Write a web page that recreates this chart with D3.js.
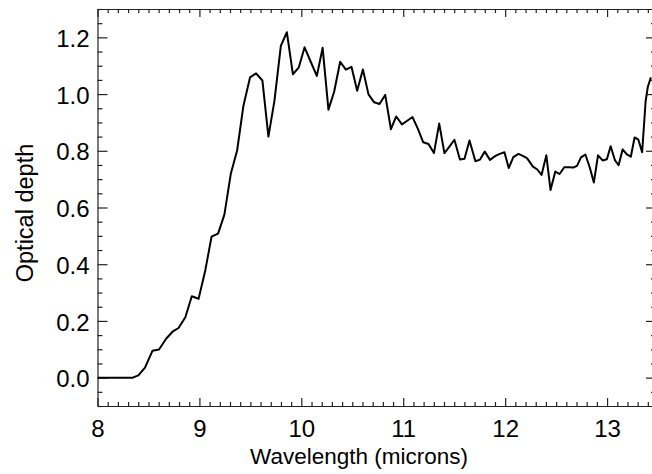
<!DOCTYPE html>
<html><head><meta charset="utf-8">
<script src="https://cdn.jsdelivr.net/npm/d3@7"></script>
<style>
html,body{margin:0;padding:0;background:#fff;}
svg text{font-family:"Liberation Sans",Arial,Helvetica,sans-serif;}
</style>
</head><body>
<svg id="chart" width="652" height="474"></svg>
<script>
const wavelength = [8.000,8.346,8.401,8.466,8.540,8.604,8.673,8.736,8.795,8.862,8.925,8.992,9.058,9.119,9.183,9.245,9.309,9.370,9.432,9.497,9.556,9.618,9.677,9.736,9.799,9.858,9.917,9.974,10.032,10.092,10.152,10.209,10.266,10.322,10.381,10.437,10.492,10.548,10.604,10.659,10.715,10.767,10.823,10.879,10.931,10.987,11.039,11.091,11.144,11.196,11.248,11.301,11.353,11.404,11.453,11.502,11.556,11.601,11.650,11.708,11.753,11.800,11.851,11.901,11.947,11.993,12.035,12.080,12.131,12.173,12.214,12.273,12.315,12.357,12.404,12.445,12.492,12.534,12.580,12.624,12.669,12.705,12.744,12.787,12.831,12.870,12.911,12.956,12.998,13.035,13.078,13.113,13.153,13.194,13.233,13.270,13.307,13.344,13.378,13.400,13.430];
const opticalDepth = [0.000,0.000,0.008,0.035,0.095,0.099,0.137,0.162,0.175,0.213,0.287,0.278,0.379,0.497,0.508,0.575,0.721,0.801,0.959,1.059,1.073,1.048,0.850,0.976,1.170,1.218,1.070,1.093,1.165,1.114,1.064,1.163,0.945,1.008,1.114,1.086,1.096,1.012,1.087,0.999,0.971,0.965,0.997,0.876,0.921,0.893,0.906,0.919,0.877,0.830,0.824,0.792,0.896,0.792,0.815,0.839,0.769,0.772,0.836,0.763,0.769,0.797,0.768,0.781,0.789,0.795,0.739,0.778,0.789,0.782,0.774,0.744,0.734,0.715,0.784,0.662,0.727,0.718,0.742,0.742,0.741,0.747,0.777,0.787,0.740,0.688,0.784,0.766,0.770,0.816,0.766,0.749,0.805,0.787,0.779,0.847,0.839,0.795,0.974,1.026,1.059];
const xTickValues = [8,9,10,11,12,13];
const yTickValues = [0.0,0.2,0.4,0.6,0.8,1.0,1.2];
const xTitle = "Wavelength (microns)";
const yTitle = "Optical depth";

const svg = d3.select("#chart");
const L=97.5, R=656, T=9, B=406;
const x = d3.scaleLinear().domain([8,13.48]).range([L,R]);
const y = d3.scaleLinear().domain([-0.1,1.3]).range([B,T]);

const axisColor = "#222";
const fsTick = 24;
const fsTitle = 22.5;

svg.append("clipPath").attr("id","clip").append("rect")
  .attr("x",L).attr("y",T).attr("width",R-L).attr("height",B-T);

const xMinor = d3.range(80,135).map(d=>d/10).filter(d=>d<=13.48 && !xTickValues.includes(d));
const yMinor = d3.range(-2,27).map(d=>d/20).filter(d=>Math.abs(Math.round(d*5)-d*5)>1e-6);

function styleAxis(g){
  g.select(".domain").attr("stroke",axisColor).attr("stroke-width",1.2);
  g.selectAll(".tick line").attr("stroke",axisColor).attr("stroke-width",1.2);
  g.selectAll("text").attr("font-size",fsTick).attr("fill","#000").attr("font-family",'"Liberation Sans",Arial,sans-serif');
}

// bottom
svg.append("g").attr("transform",`translate(0,${B})`)
  .call(d3.axisBottom(x).tickValues(xTickValues).tickFormat(d3.format("d")).tickSizeInner(-8).tickSizeOuter(0).tickPadding(14))
  .call(styleAxis);
svg.append("g").attr("transform",`translate(0,${B})`)
  .call(d3.axisBottom(x).tickValues(xMinor).tickFormat("").tickSizeInner(-4).tickSizeOuter(0))
  .call(styleAxis).call(g=>g.select(".domain").remove());
// top
svg.append("g").attr("transform",`translate(0,${T})`)
  .call(d3.axisTop(x).tickValues(xTickValues).tickFormat("").tickSizeInner(-8).tickSizeOuter(0))
  .call(styleAxis);
svg.append("g").attr("transform",`translate(0,${T})`)
  .call(d3.axisTop(x).tickValues(xMinor).tickFormat("").tickSizeInner(-4).tickSizeOuter(0))
  .call(styleAxis).call(g=>g.select(".domain").remove());
// left
svg.append("g").attr("transform",`translate(${L},0)`)
  .call(d3.axisLeft(y).tickValues(yTickValues).tickFormat(d3.format(".1f")).tickSizeInner(-10).tickSizeOuter(0).tickPadding(8))
  .call(styleAxis)
  .call(g=>g.selectAll("text").attr("dy","0.38em"));
svg.append("g").attr("transform",`translate(${L},0)`)
  .call(d3.axisLeft(y).tickValues(yMinor).tickFormat("").tickSizeInner(-5).tickSizeOuter(0))
  .call(styleAxis).call(g=>g.select(".domain").remove());
// right
svg.append("g").attr("transform",`translate(${R},0)`)
  .call(d3.axisRight(y).tickValues(yTickValues).tickFormat("").tickSizeInner(-10).tickSizeOuter(0))
  .call(styleAxis);
svg.append("g").attr("transform",`translate(${R},0)`)
  .call(d3.axisRight(y).tickValues(yMinor).tickFormat("").tickSizeInner(-5).tickSizeOuter(0))
  .call(styleAxis).call(g=>g.select(".domain").remove());

// data line
const pts = wavelength.map((w,i)=>[w,opticalDepth[i]]);
svg.append("path").datum(pts)
  .attr("clip-path","url(#clip)")
  .attr("fill","none").attr("stroke","#000").attr("stroke-width",2).attr("stroke-linejoin","round")
  .attr("d", d3.line().x(d=>x(d[0])).y(d=>y(d[1])));

// titles
svg.append("text").attr("x",359).attr("y",464).attr("text-anchor","middle")
  .attr("font-size",fsTitle).attr("fill","#000").text(xTitle);
svg.append("text").attr("transform","translate(33,213) rotate(-90)").attr("text-anchor","middle")
  .attr("font-size",23.5).attr("fill","#000").text(yTitle);
</script>
</body></html>
